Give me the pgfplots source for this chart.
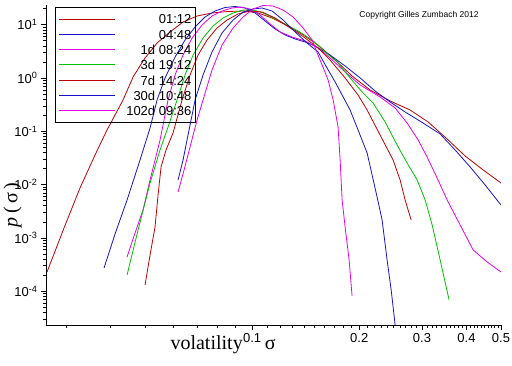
\documentclass[border=0pt]{standalone}
\usepackage{pgfplots}
\pgfplotsset{compat=1.18}
\usepackage{fontspec}
\setmainfont{Liberation Sans}
\newfontfamily\serifx{Liberation Serif}
\definecolor{mred}{RGB}{190,0,0}
\definecolor{mblue}{RGB}{20,20,200}
\definecolor{mmag}{RGB}{230,0,230}
\definecolor{mgreen}{RGB}{0,190,0}
\begin{document}
\begin{tikzpicture}
\useasboundingbox (-46pt,-41pt) rectangle (466pt,325pt);
\begin{axis}[
  at={(0pt,0pt)}, anchor=south west,
  scale only axis, width=455pt, height=320pt,
  xmode=log, ymode=log,
  xmin=0.02638, xmax=0.5, ymin=2.32e-5, ymax=23.42,
  axis lines*=left,
  axis line style={line width=0.8pt, black},
  tick align=outside,
  major tick length=5pt, minor tick length=3pt,
  tick style={line width=0.6pt, black},
  xtick={0.1,0.2,0.3,0.4,0.5},
  xticklabels={0.1,0.2,0.3,0.4,0.5},
  minor xtick={0.03,0.04,0.05,0.06,0.07,0.08,0.09,0.11,0.12,0.13,0.14,0.15,0.16,0.17,0.18,0.19,0.21,0.22,0.23,0.24,0.25,0.26,0.27,0.28,0.29,0.31,0.32,0.33,0.34,0.35,0.36,0.37,0.38,0.39,0.41,0.42,0.43,0.44,0.45,0.46,0.47,0.48,0.49},
  ytick={1e-4,1e-3,1e-2,1e-1,1,10},
  yticklabels={10\textsuperscript{-4},10\textsuperscript{-3},10\textsuperscript{-2},10\textsuperscript{-1},10\textsuperscript{0},10\textsuperscript{1}},
  minor ytick={3e-5,4e-5,5e-5,6e-5,7e-5,8e-5,9e-5,2e-4,3e-4,4e-4,5e-4,6e-4,7e-4,8e-4,9e-4,2e-3,3e-3,4e-3,5e-3,6e-3,7e-3,8e-3,9e-3,0.02,0.03,0.04,0.05,0.06,0.07,0.08,0.09,0.2,0.3,0.4,0.5,0.6,0.7,0.8,0.9,2,3,4,5,6,7,8,9,20},
  ticklabel style={font=\fontsize{13}{15}\selectfont},
  xlabel={volatility\hspace{22pt}σ},
  xlabel style={font=\serifx\fontsize{20}{24}\selectfont, at={(axis description cs:0.266,0)}, anchor=base west, yshift=-25pt},
  ylabel={{\itshape p}\,(\,σ\,)},
  ylabel style={font=\serifx\fontsize{20}{24}\selectfont, at={(axis description cs:-0.0736,0.375)}, anchor=center},
  legend style={at={(axis description cs:0.01978,0.99375)}, anchor=north west, draw=black, fill=none, line width=0.8pt,
    font=\fontsize{13}{15}\selectfont, inner xsep=3pt, inner ysep=4pt, row sep=0pt,
    nodes={inner xsep=1pt, inner ysep=2.85pt, text height=9.6pt, text depth=0pt},
    /tikz/every odd column/.append style={column sep=10pt}},
  legend cell align=right,
  legend image code/.code={\draw[#1, line width=0.9pt] (0pt,0pt) -- (56pt,0pt);},
  every axis plot/.append style={line width=0.8pt, line join=round},
  clip=true,
]
\addplot[mred] coordinates {(0.02656,2.291e-4) (0.02964,1.535e-3) (0.03287,8.63e-3) (0.03622,0.0359) (0.03915,0.1058) (0.04342,0.3866) (0.04631,1.044) (0.05005,2.373) (0.05409,4.536) (0.05885,7.295) (0.0640,11.24) (0.07007,14.56) (0.07718,16.58) (0.08561,17.69) (0.09495,18.07) (0.1040,16.58) (0.1138,13.36) (0.1262,9.454) (0.1391,6.409) (0.1532,4.160) (0.1711,2.177) (0.1909,1.090) (0.2145,0.5955) (0.2442,0.3703) (0.2778,0.2509) (0.3122,0.1494) (0.3530,0.07168) (0.3966,0.03441) (0.4456,0.01878) (0.5,0.01072)};
\addlegendentry{01:12}
\addplot[mblue] coordinates {(0.03840,2.724e-4) (0.04123,1.184e-3) (0.04456,5.141e-3) (0.04846,0.02894) (0.05170,0.1153) (0.05409,0.3866) (0.05696,1.0) (0.06078,2.477) (0.06483,5.163) (0.06917,9.054) (0.07379,13.95) (0.07871,18.07) (0.08398,21.02) (0.08956,21.95) (0.09557,20.57) (0.1020,16.58) (0.1088,11.73) (0.1160,8.305) (0.1238,6.409) (0.1321,5.391) (0.1409,4.736) (0.1503,3.985) (0.1656,2.701) (0.1825,1.680) (0.2012,1.0) (0.2215,0.5702) (0.2442,0.3546) (0.2690,0.2302) (0.3021,0.1431) (0.3374,0.08898) (0.3717,0.04459) (0.4097,0.02139) (0.4513,0.009829) (0.5,0.004143)};
\addlegendentry{04:48}
\addplot[mmag] coordinates {(0.04456,4.381e-4) (0.04692,1.236e-3) (0.04941,3.338e-3) (0.05170,0.01220) (0.05515,0.06868) (0.05808,0.3866) (0.06078,1.138) (0.0640,2.701) (0.06785,5.630) (0.07237,9.871) (0.07718,14.56) (0.08234,18.07) (0.08787,20.57) (0.09253,21.48) (0.09872,19.70) (0.1053,15.21) (0.1124,10.31) (0.1199,7.295) (0.1295,5.877) (0.1409,4.945) (0.1532,3.655) (0.1656,2.373) (0.1825,1.296) (0.2012,0.7389) (0.2288,0.4400) (0.2522,0.2736) (0.2725,0.1431) (0.2927,0.06868) (0.3101,0.03294) (0.3309,0.01330) (0.3530,5.141e-3) (0.3840,1.746e-3) (0.4177,5.929e-4) (0.4572,3.530e-4) (0.5,2.291e-4)};
\addlegendentry{1d 08:24}
\addplot[mgreen] coordinates {(0.04456,2.014e-4) (0.04784,1.407e-3) (0.05170,0.01072) (0.05515,0.04459) (0.05808,0.1204) (0.06157,0.3866) (0.06483,1.138) (0.06829,2.701) (0.07284,5.630) (0.07769,9.454) (0.08288,13.36) (0.08844,16.58) (0.09434,18.87) (0.1006,18.87) (0.1074,16.58) (0.1146,13.36) (0.1238,10.31) (0.1347,7.617) (0.1474,5.163) (0.1603,3.075) (0.1733,1.996) (0.1885,1.0) (0.2037,0.5461) (0.2187,0.3396) (0.2364,0.1494) (0.2554,0.05534) (0.2725,0.02542) (0.2908,0.01220) (0.3062,5.141e-3) (0.3204,1.746e-3) (0.3374,3.850e-4) (0.3575,6.838e-5)};
\addlegendentry{3d 19:12}
\addplot[mred] coordinates {(0.05005,1.307e-4) (0.05170,4.778e-4) (0.05339,1.601e-3) (0.05445,6.380e-3) (0.05551,0.02139) (0.05733,0.04459) (0.05999,0.09293) (0.06358,0.3866) (0.06696,1.138) (0.07053,2.701) (0.07474,5.163) (0.07973,8.671) (0.08507,12.25) (0.09135,15.88) (0.09872,18.07) (0.1067,17.31) (0.1160,13.36) (0.1279,8.671) (0.1409,5.630) (0.1532,3.655) (0.1656,2.177) (0.1825,1.0) (0.1985,0.4797) (0.2104,0.2509) (0.2288,0.08522) (0.2489,0.02894) (0.2604,0.01220) (0.2690,5.141e-3) (0.2797,2.167e-3)};
\addlegendentry{7d 14:24}
\addplot[mblue] coordinates {(0.06197,0.01220) (0.0640,0.02894) (0.06567,0.06868) (0.06917,0.3866) (0.07284,1.138) (0.07718,3.075) (0.08234,6.988) (0.08844,12.25) (0.09434,17.31) (0.1006,19.70) (0.1067,20.57) (0.1138,18.07) (0.1222,12.25) (0.1321,7.295) (0.1427,4.536) (0.1532,3.075) (0.1624,1.540) (0.1711,0.8414) (0.1790,0.4797) (0.1885,0.2509) (0.1985,0.1058) (0.2104,0.03916) (0.2173,0.01514) (0.2244,5.853e-3) (0.2318,2.167e-3) (0.2394,3.850e-4) (0.2458,1.053e-4) (0.2522,2.321e-5)};
\addlegendentry{30d 10:48}
\addplot[mmag] coordinates {(0.06197,7.264e-3) (0.06442,0.01878) (0.06696,0.05075) (0.07007,0.1629) (0.07284,0.3866) (0.07718,1.413) (0.08234,4.160) (0.08844,8.671) (0.09434,13.95) (0.1006,19.70) (0.1074,22.92) (0.1146,22.43) (0.1222,18.87) (0.1304,13.95) (0.1391,8.671) (0.1474,5.163) (0.1552,2.177) (0.1635,0.9173) (0.1689,0.3866) (0.1744,0.1204) (0.1767,0.02894) (0.1790,5.141e-3) (0.1825,1.601e-3) (0.1873,3.850e-4) (0.1909,8.126e-5)};
\addlegendentry{102d 09:36}
\node[font=\fontsize{8.5}{10}\selectfont] at (axis description cs:0.8198,0.96875) {Copyright Gilles Zumbach 2012};
\end{axis}
\end{tikzpicture}
\end{document}
